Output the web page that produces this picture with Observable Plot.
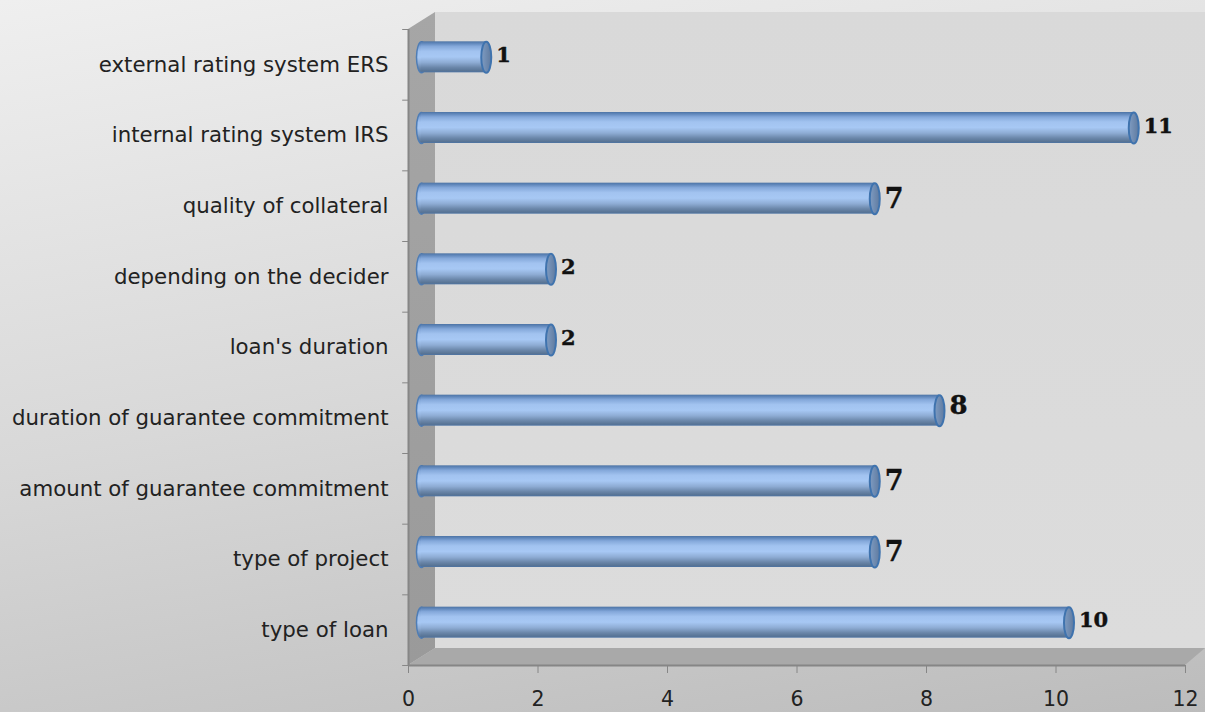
<!DOCTYPE html>
<html>
<head>
<meta charset="utf-8">
<script src="https://cdn.jsdelivr.net/npm/d3@7"></script>
<script src="https://cdn.jsdelivr.net/npm/@observablehq/plot@0.6"></script>
<style>html,body{margin:0;padding:0;background:#d0d0d0;overflow:hidden}</style>
</head>
<body>
<div id="chart"></div>
<script>
const categories = ["external rating system ERS","internal rating system IRS","quality of collateral","depending on the decider","loan's duration","duration of guarantee commitment","amount of guarantee commitment","type of project","type of loan"];
const counts = [1,11,7,2,2,8,7,7,10];
const xTicks = [0,2,4,6,8,10,12];
const rows = categories.map((c,i)=>({c,v:counts[i]}));

const W=1205,H=712,mL=408,mR=20,mT=29,mB=47;
const depthX=27,depthY=17,step=(H-mT-mB)/categories.length;
const barH=31,capRx=5,capRy=15.5,barDx=13,barDy=-7.5;

const ellipse={draw(ctx){
  const k=0.5523,a=capRx,b=capRy;
  ctx.moveTo(a,0);
  ctx.bezierCurveTo(a,k*b,k*a,b,0,b);
  ctx.bezierCurveTo(-k*a,b,-a,k*b,-a,0);
  ctx.bezierCurveTo(-a,-k*b,-k*a,-b,0,-b);
  ctx.bezierCurveTo(k*a,-b,a,-k*b,a,0);
  ctx.closePath();
}};

function chrome(index,{x},values,dims){
  const g=d3.create("svg:g");
  const defs=g.append("defs");
  const lg=(id,stops,x2=0,y2=1)=>{
    const l=defs.append("linearGradient").attr("id",id).attr("x1",0).attr("y1",0).attr("x2",x2).attr("y2",y2);
    stops.forEach(([o,c])=>l.append("stop").attr("offset",o).attr("stop-color",c));
  };
  lg("cyl",[[0,"#4d74a5"],[0.06,"#5f86ba"],[0.16,"#84a8da"],[0.32,"#a2c3f0"],[0.5,"#a7c8f4"],[0.68,"#8eacd4"],[0.84,"#6b87aa"],[0.95,"#587495"],[1,"#4d74a5"]]);
  lg("cap",[[0,"#7f9cc2"],[1,"#5f7a9f"]],1,0);
  lg("wall",[[0,"#a6a6a6"],[1,"#9a9a9a"]]);
  lg("back",[[0,"#d9d9d9"],[1,"#dcdcdc"]]);
  const x0=x(0),x1=x(12),t=dims.marginTop,b=dims.height-dims.marginBottom;
  const poly=(pts,fill)=>g.append("path").attr("d","M"+pts.join("L")+"Z").attr("fill",fill);
  poly([[x0+depthX,t-depthY],[dims.width,t-depthY],[dims.width,b-depthY],[x0+depthX,b-depthY]],"url(#back)");
  poly([[x0,t],[x0+depthX,t-depthY],[x0+depthX,b-depthY],[x0,b]],"url(#wall)");
  poly([[x0,b],[x0+depthX,b-depthY],[dims.width,b-depthY],[x1,b]],"#a9a9a9");
  return g.node();
}

const txt=(test,size,dy)=>Plot.text(rows.filter(d=>test(d.v)),{
  x:"v",y:"c",text:d=>String(d.v),dx:23,dy,textAnchor:"start",
  fontFamily:"DejaVu Serif",fontWeight:"bold",fontSize:size,fill:"#111",stroke:"#111",strokeWidth:0.4
});

const plot=Plot.plot({
  width:W,height:H,marginLeft:mL,marginRight:mR,marginTop:mT,marginBottom:mB,
  x:{domain:[0,12],range:[mL,W-mR]},
  y:{domain:categories,padding:0,round:false},
  style:{background:"linear-gradient(170deg,#efefef 0%,#d8d8d8 50%,#bcbcbc 100%)",fontFamily:"DejaVu Sans",overflow:"visible"},
  marks:[
    chrome,
    Plot.ruleY(categories,{y:d=>d,x1:-0.09,x2:0,dy:step/2,stroke:"#868686"}),
    Plot.ruleY(categories.slice(0,1),{y:d=>d,x1:-0.09,x2:0,dy:-step/2,stroke:"#868686"}),
    Plot.ruleX([0],{stroke:"#868686",strokeWidth:2}),
    Plot.ruleY(categories.slice(-1),{y:d=>d,x1:0,x2:12,dy:step/2,stroke:"#868686",strokeWidth:2}),
    Plot.axisY({tickSize:0,tickPadding:20,fontSize:21.3,label:null,fill:"#222"}),
    Plot.axisX({ticks:xTicks,tickSize:8,tickPadding:18,fontSize:20.5,label:null,stroke:"#868686",fill:"#222",tickFormat:d=>String(d)}),
    Plot.dot(rows,{x:()=>0,y:"c",symbol:ellipse,dx:barDx,dy:barDy,fill:"url(#cyl)",stroke:"#4f7db5",strokeWidth:1.5}),
    Plot.barX(rows,{x1:()=>0,x2:"v",y:"c",dx:barDx,dy:barDy,insetTop:(step-barH)/2,insetBottom:(step-barH)/2,fill:"url(#cyl)"}),
    Plot.dot(rows,{x:"v",y:"c",symbol:ellipse,dx:barDx,dy:barDy,fill:"url(#cap)",stroke:"#3f73ae",strokeWidth:2}),
    txt(v=>v!==7&&v!==8,21,-9.5),
    txt(v=>v===8,26,-12.5),
    txt(v=>v===7,27,-7)
  ]
});
document.getElementById("chart").append(plot);
</script>
</body>
</html>
